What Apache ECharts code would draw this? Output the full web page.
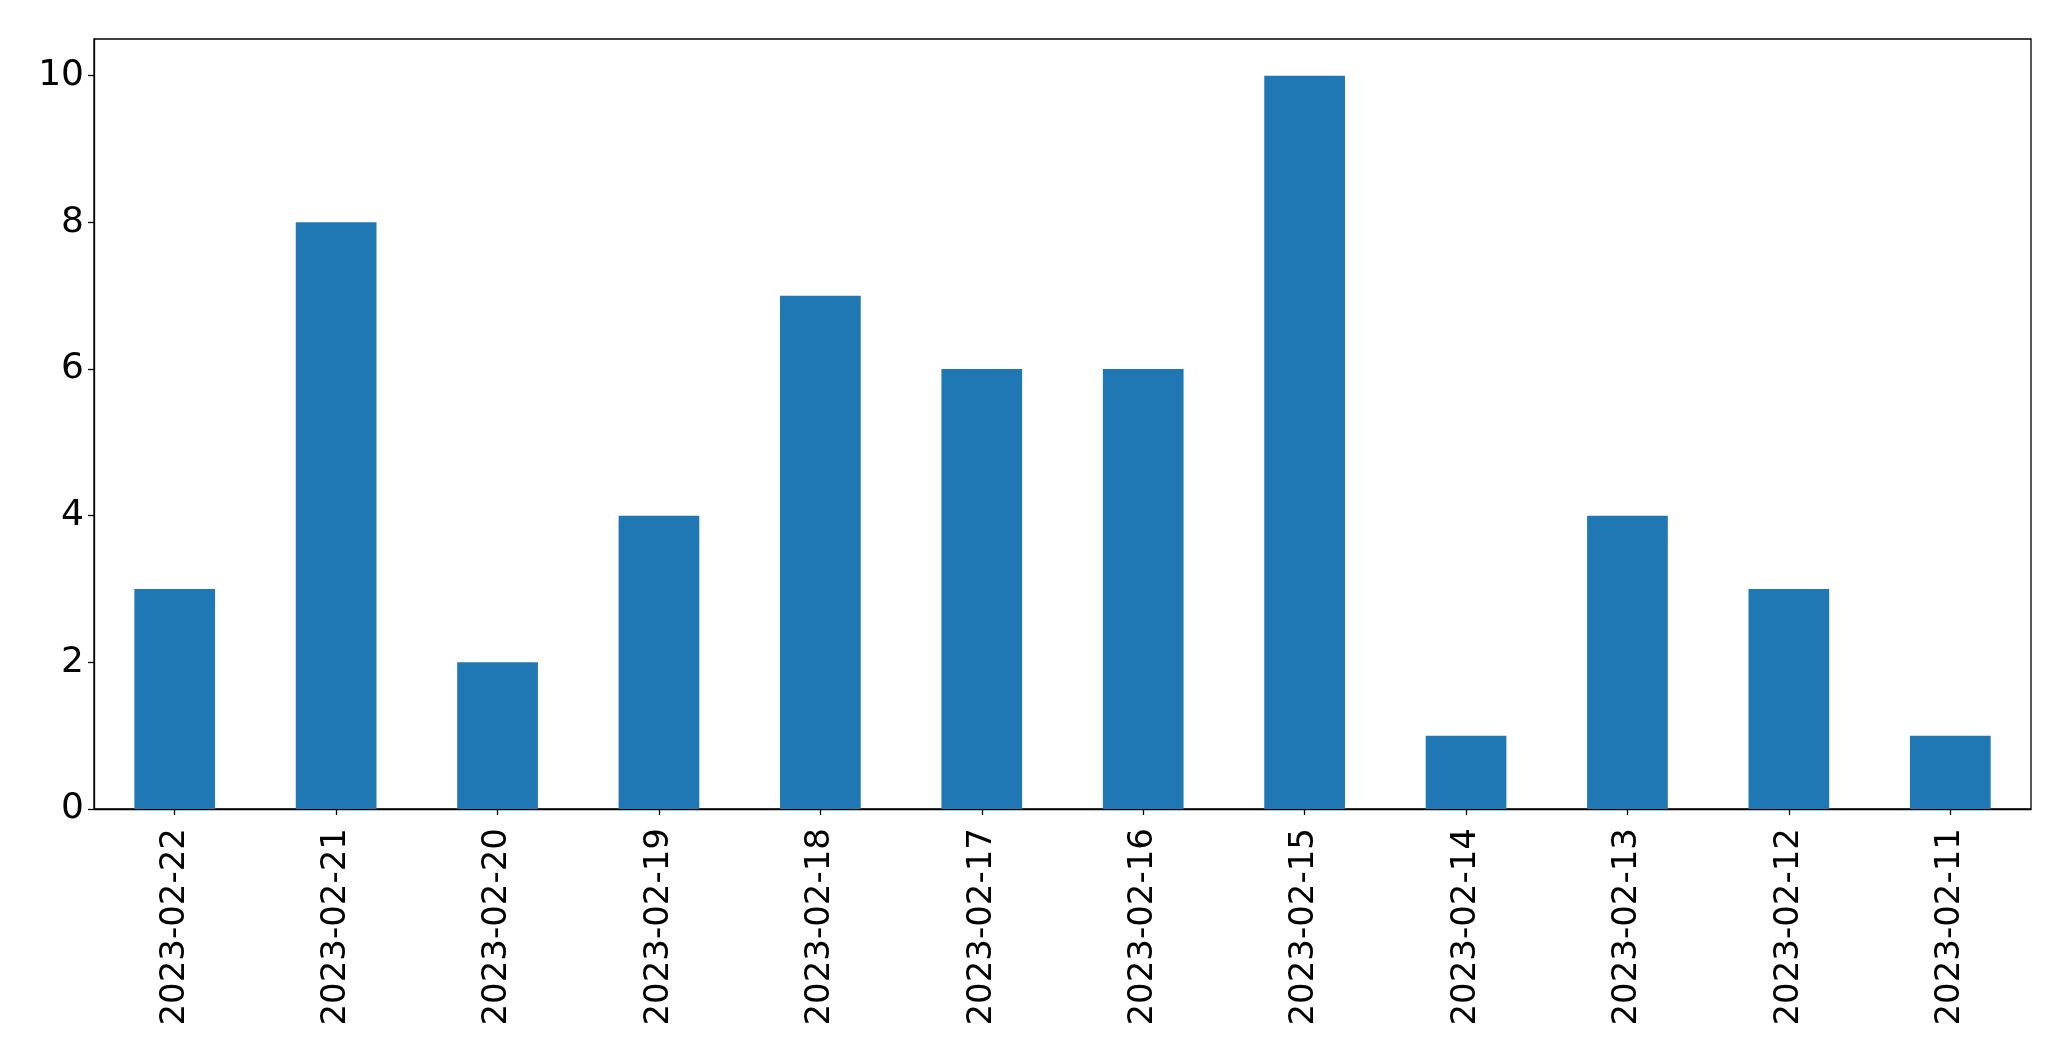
<!DOCTYPE html>
<html>
<head>
<meta charset="utf-8">
<script src="https://cdn.jsdelivr.net/npm/echarts@6/dist/echarts.min.js"></script>
<style>
html,body{margin:0;padding:0;background:#fff;}
#chart{width:2071px;height:1061px;}
</style>
</head>
<body>
<div id="chart"></div>
<script>
const categories = ['2023-02-22','2023-02-21','2023-02-20','2023-02-19','2023-02-18','2023-02-17','2023-02-16','2023-02-15','2023-02-14','2023-02-13','2023-02-12','2023-02-11'];
const values = [3, 8, 2, 4, 7, 6, 6, 10, 1, 4, 3, 1];
const yTicks = [0, 2, 4, 6, 8, 10];

const chart = echarts.init(document.getElementById('chart'), null, {renderer: 'canvas'});
const font = 'DejaVu Sans';
chart.setOption({
  animation: false,
  backgroundColor: '#ffffff',
  grid: {
    left: 94, right: 40, top: 39, bottom: 252,
    show: true, borderColor: '#000', borderWidth: 1.3, backgroundColor: 'transparent'
  },
  xAxis: {
    type: 'category',
    data: categories,
    boundaryGap: true,
    axisLine: {show: true, lineStyle: {color: '#000', width: 1.3}},
    axisTick: {show: true, alignWithLabel: true, length: 6, lineStyle: {color: '#000', width: 1.3}},
    axisLabel: {rotate: 90, margin: 19, fontSize: 34, fontFamily: font, color: '#000', interval: 0},
    splitLine: {show: false}
  },
  yAxis: {
    type: 'value',
    min: 0, max: 10.5, interval: 2,
    axisLine: {show: true, lineStyle: {color: '#000', width: 1.3}},
    axisTick: {show: true, length: 6, lineStyle: {color: '#000', width: 1.3}},
    axisLabel: {
      margin: 10, fontSize: 36, fontFamily: font, color: '#000',
      showMaxLabel: false,
      formatter: v => yTicks.includes(v) ? String(v) : ''
    },
    splitLine: {show: false}
  },
  series: [{
    type: 'bar',
    data: values,
    barWidth: '50%',
    itemStyle: {color: '#1f77b4'}
  }]
});
</script>
</body>
</html>
